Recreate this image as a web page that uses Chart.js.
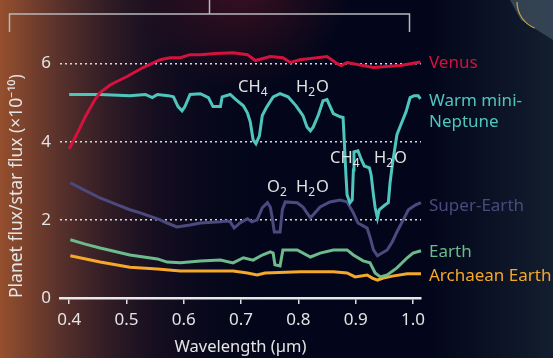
<!DOCTYPE html>
<html>
<head>
<meta charset="utf-8">
<script src="https://cdn.jsdelivr.net/npm/chart.js@4.4.0/dist/chart.umd.min.js"></script>
<style>
  html, body { margin: 0; padding: 0; background: #03061a; }
  #wrap { width: 553px; height: 358px; position: relative; }
</style>
</head>
<body>
<div id="wrap"><canvas id="spectra"></canvas></div>
<script>
// wavelength (um) / flux (x1e-10) pairs
const venusWl   = [0.400, 0.410, 0.419, 0.428, 0.437, 0.445, 0.454, 0.472, 0.501, 0.529, 0.559, 0.576, 0.594, 0.611, 0.629, 0.655, 0.686, 0.711, 0.725, 0.751, 0.773, 0.786, 0.803, 0.850, 0.868, 0.875, 0.885, 0.931, 0.978, 1.013];
const venusFlux = [3.82, 4.10, 4.36, 4.64, 4.87, 5.08, 5.26, 5.46, 5.67, 5.90, 6.10, 6.15, 6.15, 6.23, 6.23, 6.26, 6.28, 6.23, 6.08, 6.18, 6.15, 6.03, 6.10, 6.18, 6.00, 5.95, 6.03, 5.90, 5.95, 6.04];

const neptuneWl   = [0.400, 0.454, 0.506, 0.533, 0.545, 0.554, 0.573, 0.582, 0.590, 0.597, 0.602, 0.611, 0.629, 0.643, 0.651, 0.664, 0.667, 0.681, 0.691, 0.704, 0.711, 0.716, 0.721, 0.726, 0.732, 0.737, 0.744, 0.756, 0.768, 0.782, 0.796, 0.808, 0.815, 0.821, 0.826, 0.835, 0.843, 0.850, 0.861, 0.873, 0.878, 0.880, 0.883, 0.885, 0.890, 0.894, 0.896, 0.897, 0.904, 0.910, 0.915, 0.924, 0.927, 0.931, 0.934, 0.938, 0.941, 0.951, 0.957, 0.960, 0.964, 0.972, 0.979, 0.988, 0.995, 1.002, 1.009, 1.013];
const neptuneFlux = [5.21, 5.21, 5.18, 5.21, 5.13, 5.21, 5.18, 5.15, 4.90, 4.79, 4.90, 5.21, 5.23, 5.13, 4.90, 4.90, 5.15, 5.21, 5.08, 4.92, 4.74, 4.51, 4.05, 3.95, 4.15, 4.67, 4.87, 5.15, 5.23, 5.15, 4.92, 4.67, 4.38, 4.28, 4.38, 4.69, 5.05, 5.08, 4.72, 4.64, 4.62, 4.05, 3.15, 2.64, 2.44, 2.51, 3.28, 3.74, 3.77, 3.54, 3.38, 3.33, 3.15, 2.64, 2.31, 2.05, 2.26, 2.38, 2.44, 2.95, 3.41, 4.18, 4.44, 4.77, 5.13, 5.18, 5.18, 5.10];

const superWl   = [0.402, 0.419, 0.454, 0.480, 0.506, 0.524, 0.559, 0.571, 0.588, 0.611, 0.629, 0.664, 0.676, 0.681, 0.688, 0.698, 0.711, 0.719, 0.728, 0.737, 0.746, 0.751, 0.754, 0.758, 0.768, 0.772, 0.777, 0.798, 0.808, 0.815, 0.821, 0.829, 0.838, 0.855, 0.873, 0.885, 0.896, 0.904, 0.920, 0.925, 0.931, 0.938, 0.946, 0.955, 0.964, 0.972, 0.983, 0.992, 1.004, 1.014];
const superFlux = [2.95, 2.82, 2.56, 2.41, 2.26, 2.18, 2.00, 1.92, 1.82, 1.87, 1.92, 1.95, 1.97, 1.95, 1.79, 1.92, 2.03, 1.95, 2.00, 2.31, 2.44, 2.33, 2.08, 1.69, 1.69, 2.26, 2.46, 2.44, 2.33, 2.18, 2.05, 2.18, 2.33, 2.46, 2.51, 2.46, 2.18, 1.92, 1.79, 1.56, 1.23, 1.08, 1.15, 1.23, 1.44, 1.69, 2.00, 2.26, 2.38, 2.44];

const earthWl   = [0.402, 0.428, 0.454, 0.506, 0.554, 0.571, 0.594, 0.629, 0.664, 0.686, 0.704, 0.721, 0.737, 0.751, 0.756, 0.759, 0.768, 0.773, 0.798, 0.821, 0.838, 0.861, 0.885, 0.896, 0.913, 0.925, 0.934, 0.943, 0.955, 0.972, 0.990, 1.000, 1.014];
const earthFlux = [1.49, 1.38, 1.28, 1.10, 1.00, 0.92, 0.90, 0.95, 0.97, 0.90, 1.03, 0.97, 1.10, 1.18, 1.15, 0.85, 0.82, 1.23, 1.23, 1.05, 1.15, 1.23, 1.23, 1.10, 0.95, 0.90, 0.64, 0.54, 0.59, 0.77, 1.03, 1.15, 1.21];

const archaeanWl   = [0.402, 0.454, 0.506, 0.554, 0.594, 0.686, 0.711, 0.728, 0.742, 0.803, 0.861, 0.885, 0.899, 0.920, 0.929, 0.938, 0.948, 0.964, 0.990, 1.014];
const archaeanFlux = [1.08, 0.92, 0.79, 0.74, 0.69, 0.69, 0.64, 0.59, 0.64, 0.67, 0.67, 0.64, 0.54, 0.59, 0.51, 0.46, 0.51, 0.56, 0.62, 0.62];

const xTicks = [0.4, 0.5, 0.6, 0.7, 0.8, 0.9, 1.0];
const yTicks = [0, 2, 4, 6];

const seriesNames  = ['Venus', 'Warm mini-\nNeptune', 'Super-Earth', 'Earth', 'Archaean Earth'];
const seriesColors = ['#d4123e', '#4fc6bd', '#4b4a7e', '#6dbb8d', '#f5a82a'];

const FONT = '"Noto Sans", "Open Sans", sans-serif';

function pts(wl, flux) {
  return wl.map((w, i) => ({ x: w, y: flux[i] }));
}

// background glow, bracket on top
const backdrop = {
  id: 'backdrop',
  beforeDraw(chart) {
    const ctx = chart.ctx;
    const w = chart.width, h = chart.height;
    ctx.save();
    ctx.fillStyle = '#03061a';
    ctx.fillRect(0, 0, w, h);

    let g = ctx.createLinearGradient(0, 0, 260, 0);
    g.addColorStop(0, 'rgba(150,80,46,1)');
    g.addColorStop(0.25, 'rgba(98,54,46,0.85)');
    g.addColorStop(0.6, 'rgba(40,22,38,0.5)');
    g.addColorStop(1, 'rgba(10,8,30,0)');
    ctx.fillStyle = g;
    ctx.fillRect(0, 0, w, h);

    let r = ctx.createRadialGradient(240, -20, 5, 240, -20, 110);
    r.addColorStop(0, 'rgba(80,20,35,0.7)');
    r.addColorStop(1, 'rgba(80,20,35,0)');
    ctx.fillStyle = r;
    ctx.fillRect(0, 0, w, 120);

    g = ctx.createLinearGradient(430, 0, 553, 0);
    g.addColorStop(0, 'rgba(25,40,55,0)');
    g.addColorStop(1, 'rgba(25,40,55,0.7)');
    ctx.fillStyle = g;
    ctx.fillRect(430, 0, 123, h);

    // edge of the picture in the top right corner
    ctx.fillStyle = 'rgba(60,78,92,0.8)';
    ctx.beginPath();
    ctx.moveTo(510, 0);
    ctx.lineTo(553, 0);
    ctx.lineTo(553, 40);
    ctx.lineTo(521, 20);
    ctx.closePath();
    ctx.fill();
    ctx.strokeStyle = '#c9a24a';
    ctx.lineWidth = 1.2;
    ctx.beginPath();
    ctx.arc(545, 2, 28, Math.PI * 0.62, Math.PI * 1.0);
    ctx.stroke();

    ctx.strokeStyle = '#b8b8bc';
    ctx.lineWidth = 1.5;
    ctx.beginPath();
    ctx.moveTo(9.5, 32);
    ctx.lineTo(9.5, 14);
    ctx.lineTo(409.5, 14);
    ctx.lineTo(409.5, 32);
    ctx.moveTo(209.5, 0);
    ctx.lineTo(209.5, 14);
    ctx.stroke();
    ctx.restore();
  }
};

function chem(ctx, x, y, parts) {
  // parts: [text, isSubscript]
  let cx = x;
  parts.forEach(([t, sub]) => {
    ctx.font = (sub ? '12px ' : '16.5px ') + FONT;
    ctx.fillText(t, cx, sub ? y + 4 : y);
    cx += ctx.measureText(t).width + (sub ? 1 : 0);
  });
}

const labels = {
  id: 'labels',
  afterDatasetsDraw(chart) {
    const ctx = chart.ctx;
    ctx.save();
    ctx.textBaseline = 'alphabetic';
    ctx.textAlign = 'left';
    const ys = [[68], [106, 127], [211], [257], [281]];
    seriesNames.forEach((name, i) => {
      ctx.fillStyle = seriesColors[i];
      ctx.font = '17px ' + FONT;
      name.split('\n').forEach((line, j) => ctx.fillText(line, 429, ys[i][j]));
    });

    ctx.fillStyle = '#e2e2e2';
    chem(ctx, 238, 92, [['CH', 0], ['4', 1]]);
    chem(ctx, 296, 92, [['H', 0], ['2', 1], ['O', 0]]);
    chem(ctx, 330, 163, [['CH', 0], ['4', 1]]);
    chem(ctx, 374, 163, [['H', 0], ['2', 1], ['O', 0]]);
    chem(ctx, 267, 192, [['O', 0], ['2', 1]]);
    chem(ctx, 296, 192, [['H', 0], ['2', 1], ['O', 0]]);
    ctx.restore();
  }
};

const allWl = [venusWl, neptuneWl, superWl, earthWl, archaeanWl];
const allFlux = [venusFlux, neptuneFlux, superFlux, earthFlux, archaeanFlux];

new Chart(document.getElementById('spectra'), {
  type: 'line',
  data: {
    datasets: seriesNames.map((name, i) => ({
      label: name,
      data: pts(allWl[i], allFlux[i]),
      borderColor: seriesColors[i],
      borderWidth: 3,
      pointRadius: 0,
      tension: 0,
      fill: false,
      clip: false
    }))
  },
  options: {
    responsive: true,
    maintainAspectRatio: false,
    animation: false,
    layout: { padding: { top: 48, right: 132, left: 0, bottom: 0 } },
    plugins: { legend: { display: false }, tooltip: { enabled: false } },
    scales: {
      x: {
        type: 'linear',
        min: 0.384,
        max: 1.014,
        afterBuildTicks: s => { s.ticks = xTicks.map(v => ({ value: v })); },
        afterFit: s => { s.height = 60; },
        grid: { drawOnChartArea: false, drawTicks: true, tickLength: 6, color: '#dcdcdc', lineWidth: 1.5 },
        border: { display: true, color: '#e8e8e8', width: 2.5 },
        ticks: {
          color: '#e4e4e4',
          font: { family: FONT, size: 17 },
          padding: 6,
          maxRotation: 0,
          callback: v => v.toFixed(1)
        },
        title: {
          display: true,
          text: 'Wavelength (µm)',
          color: '#e4e4e4',
          font: { family: FONT, size: 16.5 },
          padding: { top: 0, bottom: 1 }
        }
      },
      y: {
        min: 0,
        max: 6.4,
        afterBuildTicks: s => { s.ticks = yTicks.map(v => ({ value: v })); },
        afterFit: s => { s.width = 60; },
        grid: {
          drawTicks: false,
          color: c => c.tick && c.tick.value === 0 ? 'rgba(0,0,0,0)' : '#d8d8d8',
          lineWidth: 1.5
        },
        border: { display: false, dash: [2, 3] },
        ticks: {
          color: '#e4e4e4',
          font: { family: FONT, size: 17 },
          padding: 9
        },
        title: {
          display: true,
          align: 'start',
          text: 'Planet flux/star flux (×10⁻¹⁰)',
          color: '#e4e4e4',
          font: { family: FONT, size: 17.5 },
          padding: { top: 7, bottom: 0 }
        }
      }
    }
  },
  plugins: [backdrop, labels]
});
</script>
</body>
</html>
